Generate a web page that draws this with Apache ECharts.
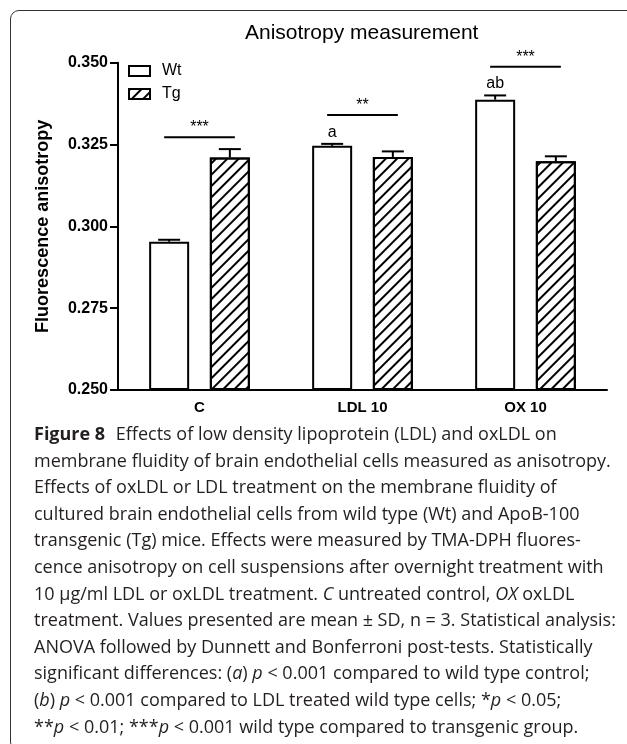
<!DOCTYPE html>
<html><head><meta charset="utf-8">
<script src="https://cdn.jsdelivr.net/npm/echarts@6/dist/echarts.min.js"></script>
<style>
html,body{margin:0;padding:0;background:#fff;}
#wrap{position:relative;width:627px;height:744px;overflow:hidden;background:#fff;}
#chart{position:absolute;left:0;top:0;width:627px;height:744px;}
#frame{position:absolute;left:10px;top:9.5px;width:700px;height:741px;border:1.5px solid #333;border-radius:9px;box-sizing:border-box;pointer-events:none;}
#caption{position:absolute;left:34px;top:420px;font-family:'Open Sans';font-size:18px;line-height:26.6px;color:#231f20;white-space:nowrap;}
#caption b{font-weight:700;margin-right:6px;}
</style></head>
<body><div id="wrap"><div id="chart"></div><div id="frame"></div>
<div id="caption">
<div><b>Figure 8</b> Effects of low density lipoprotein (LDL) and oxLDL on</div>
<div>membrane fluidity of brain endothelial cells measured as anisotropy.</div>
<div>Effects of oxLDL or LDL treatment on the membrane fluidity of</div>
<div>cultured brain endothelial cells from wild type (Wt) and ApoB-100</div>
<div>transgenic (Tg) mice. Effects were measured by TMA-DPH fluores-</div>
<div>cence anisotropy on cell suspensions after overnight treatment with</div>
<div>10 μg/ml LDL or oxLDL treatment. <i>C</i> untreated control, <i>OX</i> oxLDL</div>
<div>treatment. Values presented are mean ± SD, n = 3. Statistical analysis:</div>
<div>ANOVA followed by Dunnett and Bonferroni post-tests. Statistically</div>
<div>significant differences: (<i>a</i>) <i>p</i> &lt; 0.001 compared to wild type control;</div>
<div>(<i>b</i>) <i>p</i> &lt; 0.001 compared to LDL treated wild type cells; *<i>p</i> &lt; 0.05;</div>
<div>**<i>p</i> &lt; 0.01; ***<i>p</i> &lt; 0.001 wild type compared to transgenic group.</div>
</div>
</div>
<script>
// ---- data ----
const categories = ['C', 'LDL 10', 'OX 10'];
const seriesNames = ['Wt', 'Tg'];
const wtMean = [0.2953, 0.3246, 0.3387];
const wtSD = [0.0006, 0.0006, 0.0013];
const tgMean = [0.3210, 0.3212, 0.3199];
const tgSD = [0.0026, 0.0017, 0.0015];
const wtLetters = ['', 'a', 'ab'];
const sigLevel = [0.3272, 0.3340, 0.3488];
const sigStars = ['***', '**', '***'];
const yTicks = [0.250, 0.275, 0.300, 0.325, 0.350];
const chartTitle = 'Anisotropy measurement';
const yName = 'Fluorescence anisotropy';

// ---- style constants ----
const FONT = 'Liberation Sans';
const BAR_W = 40;
const BAR_GAP_PX = 20.7;
const OFFSET = (BAR_W + BAR_GAP_PX) / 2;
const CAP = 11;

const chart = echarts.init(document.getElementById('chart'), null, {renderer: 'canvas'});

function errorSeries(means, sds, offset, letters) {
  return {
    type: 'custom', z: 5, silent: true,
    data: means.map((m, i) => [i, m, sds[i]]),
    renderItem(params, api) {
      const i = api.value(0);
      const p0 = api.coord([i, api.value(1)]);
      const p1 = api.coord([i, api.value(1) + api.value(2)]);
      const x = p0[0] + offset;
      const children = [
        {type: 'line', shape: {x1: x, y1: p0[1], x2: x, y2: p1[1]}, style: {stroke: '#000', lineWidth: 2}},
        {type: 'line', shape: {x1: x - CAP, y1: p1[1], x2: x + CAP, y2: p1[1]}, style: {stroke: '#000', lineWidth: 2}}
      ];
      const lbl = letters ? letters[params.dataIndex] : '';
      if (lbl) {
        children.push({type: 'text', style: {text: lbl, x: x, y: p1[1] - 3.5, align: 'center', verticalAlign: 'bottom',
          font: '16px "' + FONT + '"', fill: '#000'}});
      }
      return {type: 'group', children};
    }
  };
}

const option = {
  animation: false,
  textStyle: {fontFamily: FONT},
  graphic: [{
    type: 'text', x: 361.7, y: 33.5,
    style: {text: chartTitle, font: '21px "' + FONT + '"', align: 'center', verticalAlign: 'middle', fill: '#000'}
  }],
  legend: {
    data: seriesNames, orient: 'vertical', left: 128, top: 63, itemWidth: 21, itemHeight: 10, itemGap: 7,
    padding: 0, icon: 'rect', selectedMode: false,
    textStyle: {fontSize: 16, fontFamily: FONT, color: '#000', padding: [0, 0, 0, 7]}
  },
  grid: {left: 118, right: 20, top: 62.7, bottom: 354, outerBoundsMode: 'none'},
  xAxis: {
    type: 'category', data: categories,
    axisLine: {lineStyle: {color: '#000', width: 2}},
    axisTick: {alignWithLabel: true, length: 6, lineStyle: {color: '#000', width: 2}},
    axisLabel: {fontSize: 15, fontWeight: 'bold', color: '#000', margin: 10, fontFamily: FONT}
  },
  yAxis: {
    type: 'value', min: yTicks[0], max: yTicks[yTicks.length - 1], interval: 0.025, startValue: yTicks[0],
    name: yName, nameLocation: 'middle', nameGap: 66,
    nameTextStyle: {fontSize: 18, fontWeight: 'bold', fontFamily: FONT, color: '#000'},
    axisLine: {show: true, lineStyle: {color: '#000', width: 2}},
    axisTick: {show: true, length: 8, lineStyle: {color: '#000', width: 2}},
    axisLabel: {fontSize: 16, fontWeight: 'bold', color: '#000', margin: 10, fontFamily: FONT,
      formatter: v => v.toFixed(3)},
    splitLine: {show: false}
  },
  series: [
    {name: seriesNames[0], type: 'bar', data: wtMean, barWidth: BAR_W, barGap: (BAR_GAP_PX / BAR_W * 100) + '%',
      itemStyle: {color: '#fff', borderColor: '#000', borderWidth: 2}},
    {name: seriesNames[1], type: 'bar', data: tgMean, barWidth: BAR_W,
      itemStyle: {color: '#fff', borderColor: '#000', borderWidth: 2,
        decal: {symbol: 'rect', symbolSize: 1, dashArrayX: [1, 0], dashArrayY: [1.6, 5.4], rotation: -Math.PI / 4, color: '#000'}}},
    errorSeries(wtMean, wtSD, -OFFSET, wtLetters),
    errorSeries(tgMean, tgSD, OFFSET, null),
    {
      type: 'custom', z: 5, silent: true,
      data: sigLevel.map((v, i) => [i, v]),
      renderItem(params, api) {
        const p = api.coord([api.value(0), api.value(1)]);
        const x1 = p[0] - OFFSET - 5, x2 = p[0] + OFFSET + 5;
        return {type: 'group', children: [
          {type: 'line', shape: {x1, y1: p[1], x2, y2: p[1]}, style: {stroke: '#000', lineWidth: 2}},
          {type: 'text', style: {text: sigStars[params.dataIndex], x: (x1 + x2) / 2, y: p[1] - 1.5, align: 'center',
            verticalAlign: 'bottom', font: '16px "' + FONT + '"', fill: '#000'}}
        ]};
      }
    }
  ]
};
chart.setOption(option);
</script>
</body></html>
